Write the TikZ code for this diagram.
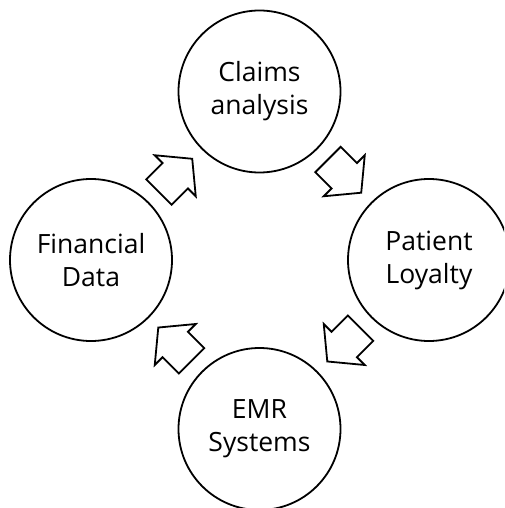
\documentclass[tikz,border=0pt]{standalone}
\usepackage{fontspec}
\setmainfont{Open Sans}
\usetikzlibrary{calc}
\tikzset{
  stage/.style={circle, draw=black, line width=1.8pt, minimum size=162pt, inner sep=0pt, align=center, font=\fontsize{26.5}{33}\selectfont},
  arrowline/.style={draw=black, fill=white, line width=1.8pt, line join=miter},
  blockarrow/.pic={\path[arrowline] (-23,-18) -- (0,-18) -- (0,-29) -- (24,0) -- (0,29) -- (0,18) -- (-23,18) -- cycle;}
}
\begin{document}
\begin{tikzpicture}[x=1pt,y=-1pt]
\useasboundingbox (0,0) rectangle (504,508);
\clip (0,0) rectangle (504,508);
\node[stage] (claims) at (259.5,91.5) {Claims\\analysis};
\node[stage] (loyalty) at (429,260) {Patient\\Loyalty};
\node[stage] (emr) at (259.5,429) {EMR\\Systems};
\node[stage] (fin) at (91,260) {Financial\\Data};
\pic[rotate=45] at ($(fin)!0.5!(claims)$) {blockarrow};
\pic[rotate=-45] at ($(claims)!0.5!(loyalty)$) {blockarrow};
\pic[rotate=-135] at ($(loyalty)!0.5!(emr)$) {blockarrow};
\pic[rotate=135] at ($(emr)!0.5!(fin)$) {blockarrow};
\end{tikzpicture}
\end{document}
